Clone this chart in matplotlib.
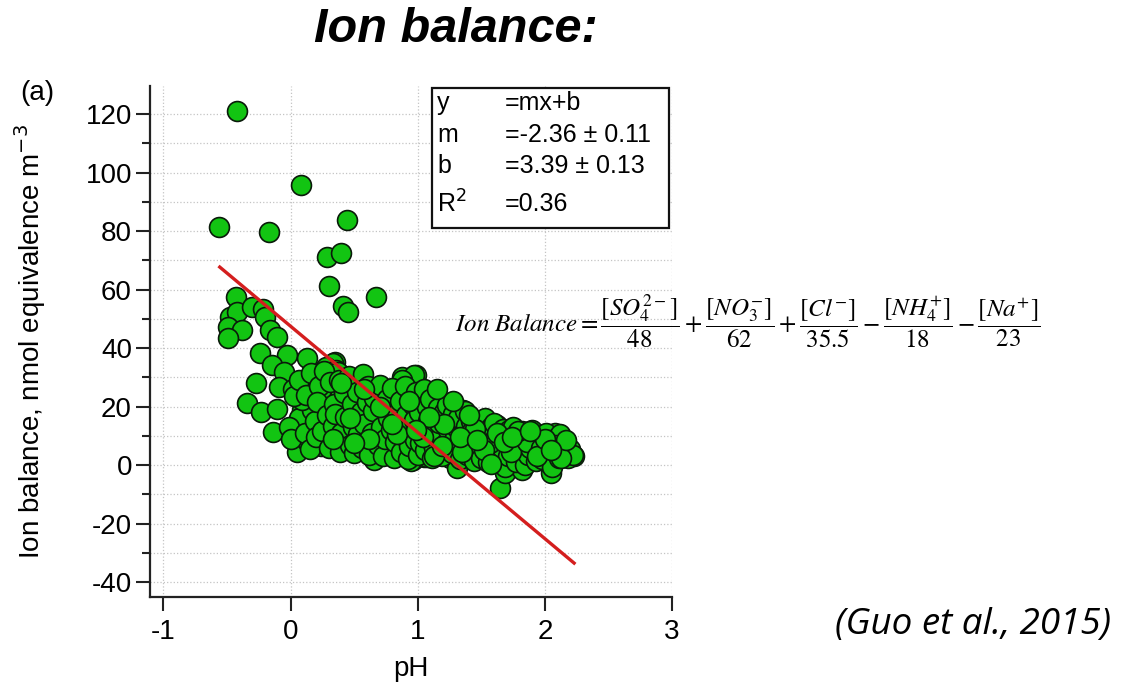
import matplotlib.pyplot as plt
from matplotlib.patches import Rectangle
from matplotlib.ticker import MultipleLocator

plt.rcParams['font.family'] = ['Liberation Sans', 'DejaVu Sans']
plt.rcParams['axes.unicode_minus'] = False

# pH and ion balance (nmol equivalence m-3) for each sample
ph = [-0.42, 0.08, -0.565, -0.17, 0.44, 0.29, 0.40, 0.30, 0.67, 0.41, 0.45,
      -0.43, -0.48, -0.42, -0.30, -0.22, -0.20, -0.49, -0.38, -0.49, -0.16,
      -0.11, -0.24, -0.03, 0.13, 0.35, -0.15, -0.05, -0.27, -0.09, 0.02,
      -0.34, -0.23, -0.11, -0.14, 0.05, 0.13, 0.24, 0.27, 0.23, 0.33, 0.37,
      0.44, 0.42, 0.54, 0.62, 0.69, 0.78, 0.75, 0.52, 0.09, 0.07, -0.01,
      0.19, 0.29, 0.28, 0.36, 0.32, 0.38, 0.45, 0.36, 0.24, 0.17, 0.09,
      0.56, 0.68, 0.88, 0.99, 0.87, 1.03, 0.96, 1.05, 0.76, 0.60, 0.44,
      0.24, 0.37, 0.54, 0.64, 0.75, 0.28,
      0.97, 0.88, 0.72, 1.07, 1.19, 1.36, 1.03, 1.23, 1.52, 1.62, 1.76,
      1.92, 2.08, 2.23, 2.16, 2.05, 1.90, 1.66, 1.65, 1.69, 1.82, 1.43,
      1.25, 1.31, 0.95, 0.78, 0.64, 0.66, 1.07, 1.15, 1.48, 1.58, 1.77,
      1.98, 2.03,
      0.00, 0.03, 0.07, 0.11, 0.12, 0.16, 0.15, 0.19, 0.20, 0.22, 0.21,
      0.26, 0.25, 0.29, 0.31, 0.30, 0.33, 0.34, 0.36, 0.35, 0.39, 0.38,
      0.40, 0.42, 0.43, 0.47, 0.46, 0.49, 0.48, 0.50, 0.52, 0.53, 0.55,
      0.57, 0.56, 0.58, 0.60, 0.61, 0.62, 0.65, 0.64, 0.66, 0.69, 0.70,
      0.71, 0.73, 0.72, 0.74, 0.77, 0.76, 0.79, 0.81, 0.80, 0.82, 0.84,
      0.85, 0.87, 0.86, 0.89, 0.91, 0.90, 0.92, 0.94, 0.93, 0.96, 0.98,
      0.97, 0.99, 1.00, 1.02, 1.01, 1.04, 1.05, 1.06, 1.08, 1.07, 1.09,
      1.11, 1.10, 1.12, 1.14, 1.13, 1.16, 1.18, 1.17, 1.19, 1.21, 1.22,
      1.24, 1.23, 1.26, 1.27, 1.29, 1.28, 1.30, 1.33, 1.32, 1.34, 1.36,
      1.37, 1.39, 1.38, 1.41, 1.42, 1.44, 1.43, 1.46, 1.47, 1.49, 1.50,
      1.51, 1.53, 1.54, 1.56, 1.55, 1.58, 1.59, 1.61, 1.60, 1.63, 1.64,
      1.66, 1.67, 1.69, 1.70, 1.72, 1.71, 1.74, 1.75, 1.77, 1.78, 1.80,
      1.82, 1.81, 1.84, 1.85, 1.87, 1.88, 1.90, 1.91, 1.93, 1.95, 1.96,
      1.98, 1.99, 2.01, 2.02, 2.04, 2.06, 2.07, 2.09, 2.11, 2.12, 2.14,
      2.15, 2.18, 2.20, 2.22,
      1.04, 1.13, 1.21, 1.35, 1.45, 1.57, 1.62, 1.73, 1.86, 1.97, 2.08,
      2.13, 1.40, 1.28, 1.15, 0.93, 0.84, 0.70, 0.58, 0.47, 0.33, 1.52,
      1.68, 1.79, 1.94, 2.00, 2.17, 1.33, 1.19, 1.09, 0.99, 0.80, 0.62,
      0.50, 0.40, 1.58, 1.74, 1.88, 2.05, 1.47]
ion_balance = [121.2, 95.9, 81.5, 79.8, 83.9, 71.2, 72.6, 61.3, 57.5, 54.5, 52.4,
               57.5, 50.7, 52.4, 54.1, 53.4, 50.7, 47.3, 46.2, 43.5, 46.2,
               43.8, 38.4, 37.7, 36.6, 35.3, 34.2, 31.8, 28.1, 26.7, 26.0,
               21.2, 18.2, 19.2, 11.3, 4.5, 8.2, 6.5, 14.7, 24.7, 34.9, 26.7,
               22.9, 13.0, 14.7, 7.5, 16.4, 4.5, 25.7, 29.1, 18.8, 16.1, 13.0,
               18.2, 21.6, 33.5, 32.5, 31.8, 26.3, 22.2, 13.7, 14.4, 18.8, 22.2,
               16.4, 15.4, 30.1, 30.8, 24.0, 22.2, 1.7, 2.7, 19.8, 12.0, 19.8,
               25.6, 31.8, 29.1, 25.0, 25.6, 8.5,
               30.8, 29.1, 25.7, 22.3, 21.6, 18.8, 15.4, 12.7, 14.7, 13.7, 11.3,
               9.9, 11.0, 3.1, 4.5, -2.7, 2.4, 2.7, -7.9, -2.7, -1.7, 4.1,
               2.4, -1.0, 1.4, 4.1, 7.5, 1.7, 2.7, 6.2, 8.6, 6.2, 6.2,
               5.1, 0.7,
               9.0, 23.5, 29.0, 11.0, 24.0, 31.5, 5.5, 15.0, 9.5, 27.0, 21.5,
               32.0, 11.5, 17.0, 28.5, 6.0, 13.5, 21.0, 9.0, 17.5, 4.5, 29.0,
               11.0, 24.5, 16.5, 7.0, 30.5, 13.0, 21.0, 4.0, 25.0, 10.5, 18.0,
               31.0, 6.0, 14.0, 21.5, 27.0, 3.5, 18.5, 11.0, 23.0, 7.0, 27.5,
               13.0, 3.0, 20.0, 9.0, 16.0, 22.5, 12.0, 2.5, 26.5, 8.0, 18.5,
               14.0, 4.5, 22.0, 10.0, 17.0, 27.0, 2.0, 13.0, 6.5, 20.5, 8.5,
               15.5, 25.0, 3.5, 7.5, 18.0, 11.5, 26.0, 5.0, 15.0, 20.0, 9.0,
               2.5, 22.5, 12.5, 17.0, 6.0, 19.5, 10.0, 14.5, 3.0, 18.0, 7.5,
               12.0, 20.5, 15.5, 4.0, 9.5, 17.5, 13.0, 2.0, 16.0, 7.0, 11.0,
               18.5, 3.5, 13.5, 9.0, 15.0, 1.5, 11.5, 6.0, 14.0, 9.5, 2.5,
               12.5, 16.0, 7.0, 10.5, 1.0, 13.0, 5.0, 9.0, 14.5, 2.5, 11.0,
               6.0, 12.5, -0.5, 8.0, 12.0, 3.0, 7.0, 13.0, 1.0, 10.0, 4.5,
               11.5, 7.5, 0.0, 10.5, 3.5, 6.0, 12.0, 8.5, 1.5, 4.5, 10.0,
               2.0, 7.5, 11.0, 4.0, 8.5, -0.5, 6.0, 9.0, 2.5, 10.5, 5.0,
               7.5, 2.5, 5.5, 3.5,
               9.5, 3.0, 14.0, 4.5, 12.5, 7.5, 11.0, 4.5, 8.0, 6.0, 7.0,
               2.5, 17.0, 22.0, 26.0, 22.0, 10.5, 20.0, 26.0, 16.0, 9.0, 5.0,
               8.0, 11.5, 3.0, 9.0, 8.5, 9.5, 6.5, 16.5, 12.0, 14.0, 9.0,
               7.5, 28.0, 0.5, 9.5, 11.5, 5.0, 8.5]

# end points of the fitted line
fit_ph = [-0.557, 2.23]
fit_balance = [67.7, -33.5]

fit_rows = [('y', '=mx+b'), ('m', '=-2.36 ± 0.11'), ('b', '=3.39 ± 0.13'), ('R$^2$', '=0.36')]

fig = plt.figure(figsize=(11.3, 6.93), dpi=100)
ax = fig.add_axes([0.1327, 0.1385, 0.4620, 0.7374])

ax.scatter(ph, ion_balance, s=205, color='#12c412', edgecolors='#0a1a0a',
           linewidths=1.2, zorder=3)
ax.plot(fit_ph, fit_balance, color='#d41e1e', lw=2.4, zorder=4)

ax.set_xlim(-1.106, 3.0)
ax.set_ylim(-45.1, 129.6)
ax.xaxis.set_major_locator(MultipleLocator(1))
ax.yaxis.set_major_locator(MultipleLocator(20))
ax.yaxis.set_minor_locator(MultipleLocator(10))

for side in ['top', 'right']:
    ax.spines[side].set_visible(False)
for side in ['left', 'bottom']:
    ax.spines[side].set_linewidth(1.6)
    ax.spines[side].set_color('#222222')

ax.tick_params(which='major', direction='out', length=10, width=1.5,
               labelsize=20, color='#222222', pad=3)
ax.tick_params(which='minor', direction='out', length=6, width=1.5, color='#222222')
ax.tick_params(axis='x', pad=6)

ax.grid(True, which='both', axis='y', linestyle=':', color='#c4c4c4', lw=0.9, zorder=0)
ax.grid(True, which='major', axis='x', linestyle=':', color='#c4c4c4', lw=0.9, zorder=0)
ax.set_axisbelow(True)

ax.set_xlabel('pH', fontsize=20, labelpad=8)
ax.set_ylabel('Ion balance, nmol equivalence m$^{-3}$', fontsize=20)
ax.yaxis.set_label_coords(-0.195, 0.5)

# fit statistics box
ax.add_patch(Rectangle((0.540, 0.722), 0.454, 0.274, transform=ax.transAxes,
                       facecolor='white', edgecolor='#111111', lw=1.6, zorder=5))
row_y = [0.967, 0.904, 0.843, 0.770]
for (name, val), yy in zip(fit_rows, row_y):
    ax.text(0.550, yy, name, transform=ax.transAxes, fontsize=18,
            va='center', ha='left', zorder=6)
    ax.text(0.680, yy, val, transform=ax.transAxes, fontsize=18,
            va='center', ha='left', zorder=6)

fig.text(0.403, 0.957, 'Ion balance:', fontsize=35, fontweight='bold',
         fontstyle='italic', ha='center', va='center')
fig.text(0.018, 0.866, '(a)', fontsize=20, ha='left', va='center')

eq = (r'$Ion\ Balance = \dfrac{[SO_4^{2-}]}{48} + \dfrac{[NO_3^{-}]}{62}'
      r' + \dfrac{[Cl^{-}]}{35.5} - \dfrac{[NH_4^{+}]}{18} - \dfrac{[Na^{+}]}{23}$')
fig.text(0.403, 0.536, eq, fontsize=18, math_fontfamily='stix',
         ha='left', va='center')

fig.text(0.739, 0.098, '(Guo et al., 2015)', fontsize=26.5, fontstyle='italic',
         family=['Open Sans', 'DejaVu Sans'], ha='left', va='center')

fig.savefig('out.png', dpi=100)
